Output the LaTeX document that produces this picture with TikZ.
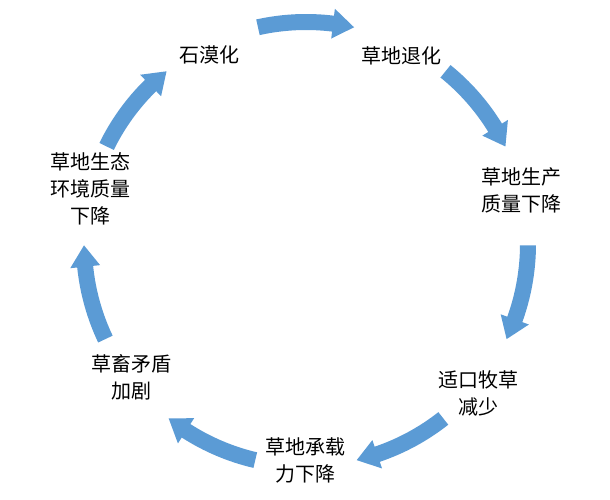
\documentclass[tikz,border=0pt]{standalone}
\usepackage{fontspec}
\newfontfamily\cjk{Noto Sans CJK SC}
\definecolor{arrowblue}{RGB}{91,155,213}
\tikzset{
  lbl/.style={align=center, inner sep=0pt, font=\cjk\fontsize{20}{27}\selectfont, text=black},
  blockarrow/.style={fill=arrowblue, draw=none}
}
\begin{document}
\begin{tikzpicture}[x=1pt,y=1pt]
\useasboundingbox[fill=white] (0,0) rectangle (610,499);
% nodes
\node[lbl] (n1) at (209,444) {石漠化};
\node[lbl] (n2) at (401,443) {草地退化};
\node[lbl] (n3) at (521,309) {草地生产\\质量下降};
\node[lbl] (n4) at (478,106) {适口牧草\\减少};
\node[lbl] (n5) at (305,39) {草地承载\\力下降};
\node[lbl] (n6) at (131,122) {草畜矛盾\\加剧};
\node[lbl] (n7) at (90,310) {草地生态\\环境质量\\下降};
% cycle arrows
\coordinate (c) at (306,255);
\begin{scope}[shift={(c)}]
\foreach \ca in {90,38.57,-12.86,-64.29,-115.71,-167.14,-218.57} {
  \pgfmathsetmacro\aA{\ca+12.5}
  \pgfmathsetmacro\aB{\ca-12.5}
  \pgfmathsetmacro\aC{\aB+5.5}
  \fill[blockarrow] (\aA:230) arc[start angle=\aA, end angle=\aC, radius=230]
     -- (\aC:237) -- (\aB:222) -- (\aC:207) -- (\aC:214)
     arc[start angle=\aC, end angle=\aA, radius=214] -- cycle;
}
\end{scope}
\end{tikzpicture}
\end{document}
